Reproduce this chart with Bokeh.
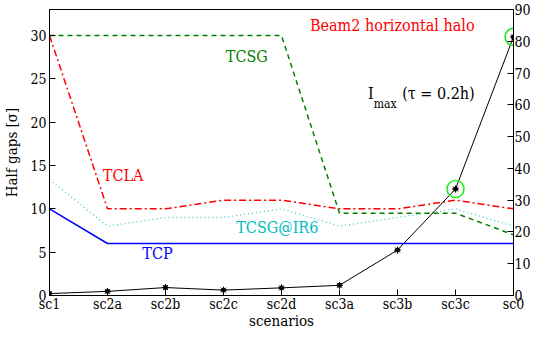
from bokeh.plotting import figure
from bokeh.models import Range1d, LinearAxis, FixedTicker, ColumnDataSource
from bokeh.core.properties import value
from bokeh.embed import file_html
from bokeh.resources import INLINE

scenarios = ["sc1", "sc2a", "sc2b", "sc2c", "sc2d", "sc3a", "sc3b", "sc3c", "sc0"]
tcp = [10, 6, 6, 6, 6, 6, 6, 6, 6]
tcla = [30, 10, 10, 11, 11, 10, 10, 11, 10]
tcsg = [30, 30, 30, 30, 30, 9.5, 9.5, 9.5, 7]
tcsg_ir6 = [13.4, 8, 9, 9, 10, 8, 9, 10, 8]
imax = [0.6, 1.3, 2.5, 1.7, 2.4, 3.2, 14.3, 33.5, 81.4]
highlight = ["sc3c", "sc0"]
left_ticks = [0, 5, 10, 15, 20, 25, 30]
right_ticks = [0, 10, 20, 30, 40, 50, 60, 70, 80, 90]

x = list(range(len(scenarios)))
FONT = "DejaVu Serif Condensed, DejaVu Serif"

p = figure(width=533, height=332, output_backend="svg", toolbar_location=None,
           x_range=Range1d(0, len(scenarios) - 1), y_range=Range1d(0, 33),
           min_border_left=40, min_border_right=0, min_border_top=9, min_border_bottom=0)
p.extra_y_ranges = {"imax": Range1d(0, 90)}
p.xgrid.visible = False
p.ygrid.visible = False
p.outline_line_color = "black"
p.outline_line_width = 1
p.background_fill_color = "white"
p.border_fill_color = "white"

def style_axis(ax):
    ax.major_label_text_font = FONT
    ax.major_label_text_font_size = "14px"
    ax.major_label_text_color = "black"
    ax.axis_label_text_font = FONT
    ax.axis_label_text_font_size = "15px"
    ax.axis_label_text_font_style = "normal"
    ax.axis_label_text_color = "black"
    ax.axis_line_color = "black"
    ax.major_tick_in = 6
    ax.major_tick_out = 0
    ax.minor_tick_in = 0
    ax.minor_tick_out = 0
    ax.major_tick_line_color = "black"

xa = p.xaxis[0]
xa.ticker = FixedTicker(ticks=x)
xa.major_label_overrides = {i: s for i, s in enumerate(scenarios)}
xa.axis_label = "scenarios"
style_axis(xa)
xa.major_label_standoff = 0
xa.axis_label_standoff = -3

ya = p.yaxis[0]
ya.ticker = FixedTicker(ticks=left_ticks)
ya.axis_label = "Half gaps [σ]"
style_axis(ya)
ya.major_label_standoff = 3
ya.axis_label_standoff = 6

yr = LinearAxis(y_range_name="imax", ticker=FixedTicker(ticks=right_ticks))
style_axis(yr)
yr.major_label_standoff = 1
p.add_layout(yr, "right")

src = ColumnDataSource(dict(x=x, tcp=tcp, tcla=tcla, tcsg=tcsg, ir6=tcsg_ir6, imax=imax))

p.line("x", "ir6", source=src, line_color="#40c8c8", line_width=1.3, line_dash="1 3")
p.line("x", "tcsg", source=src, line_color="#008000", line_width=1.5, line_dash="5 4")
p.line("x", "tcla", source=src, line_color="#ff0000", line_width=1.5, line_dash="7 3 2 3")
p.line("x", "tcp", source=src, line_color="#0000ff", line_width=1.5)

p.line("x", "imax", source=src, line_color="black", line_width=1, y_range_name="imax")
p.scatter("x", "imax", source=src, marker="asterisk", size=7, line_color="black", y_range_name="imax")
p.scatter("x", "imax", source=src, marker="circle", size=4, fill_color="black", line_color="black", y_range_name="imax")

hx = [scenarios.index(h) for h in highlight]
hy = [imax[i] for i in hx]
p.scatter(hx, hy, marker="circle", size=17, fill_alpha=0, line_color="#22ee22", line_width=1.6, y_range_name="imax")

def label(xx, yy, txt, color, size="16px", yname="default"):
    p.text([xx], [yy], text=[txt], text_color=color, text_font=value(FONT), text_font_size=size,
           text_align="left", text_baseline="middle", y_range_name=yname)

label(4.49, 31.1, "Beam2 horizontal halo", "#ff0000")
label(3.04, 27.6, "TCSG", "#008000")
label(0.92, 13.9, "TCLA", "#ff0000")
label(1.60, 4.9, "TCP", "#0000ff")
label(3.22, 7.85, "TCSG@IR6", "#00bcbc")
label(5.49, 23.3, "I", "black")
label(5.59, 22.1, "max", "black", size="12px")
label(6.08, 23.3, "(τ = 0.2h)", "black")

open("out.html", "w").write(file_html(p, INLINE))
